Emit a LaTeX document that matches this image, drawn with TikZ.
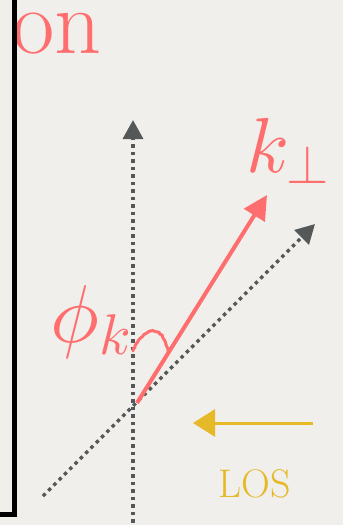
\documentclass[tikz,border=0pt]{standalone}
\DeclareFontShape{OML}{cmm}{m}{it}{<->cmmi10}{}
\DeclareFontShape{OMS}{cmsy}{m}{n}{<->cmsy10}{}
\DeclareFontShape{OT1}{cmr}{m}{n}{<->cmr10}{}
\usetikzlibrary{arrows.meta,decorations.pathmorphing}
\definecolor{bg}{RGB}{241,239,235}
\definecolor{salmon}{RGB}{255,110,110}
\definecolor{axisgray}{RGB}{85,88,88}
\definecolor{gold}{RGB}{230,185,40}
\begin{document}
\begin{tikzpicture}[x=1pt,y=-1pt,
  axis/.style={axisgray, line width=3.5pt, dash pattern=on 3.5pt off 4pt, -{Triangle[width=20pt,length=19pt]}},
  kvec/.style={salmon, line width=4pt, -{Triangle[width=24pt,length=24pt]}},
  losarrow/.style={gold, line width=3pt, -{Triangle[width=27pt,length=22pt]}},
  anglemark/.style={salmon, line width=3pt, line cap=round, decorate, decoration={random steps,segment length=2pt,amplitude=0.5pt}},
  lbl/.style={text=salmon, inner sep=0pt, font=\fontsize{78}{80}\selectfont},
  frame/.style={black, line width=5pt}]
\fill[bg] (0,0) rectangle (343,525);
\useasboundingbox (0,0) rectangle (343,525);
% title fragment, clipped by the frame
\begin{scope}
  \clip (16.5,0) rectangle (343,525);
  \node[anchor=base east, text=salmon, inner sep=0pt, font=\fontsize{92}{92}\selectfont] (title) at (102,53) {on};
\end{scope}
% frame corner
\coordinate (ftop) at (14,-5);
\coordinate (fcorner) at (14,514);
\coordinate (fleft) at (-5,514);
\draw[frame] (ftop) -- (fcorner) -- (fleft);
% axes
\coordinate (O) at (133,406);
\coordinate (vtop) at (133,120);
\coordinate (vbot) at (133,530);
\coordinate (dlow) at (43,496);
\coordinate (dtip) at (315,224);
\draw[axis] (vbot) -- (vtop);
\draw[axis] (dlow) -- (dtip);
% k vector
\coordinate (kstart) at (137,403);
\coordinate (ktip) at (267,195);
\draw[kvec] (kstart) -- (ktip);
% angle mark
\coordinate (a1) at (133,351);
\coordinate (a2) at (168,352);
\draw[anglemark] (a1) .. controls (140,331) and (162,318) .. (a2);
% LOS arrow
\coordinate (losstart) at (313,423);
\coordinate (losend) at (193,423);
\draw[losarrow] (losstart) -- (losend);
% labels
\node[lbl, anchor=base west] (kperp) at (246,172) {$k_\perp$};
\node[lbl, anchor=base west, font=\fontsize{82}{84}\selectfont] (phik) at (50,342) {$\phi_k$};
\node[anchor=base west, text=gold, inner sep=0pt, font=\fontsize{40}{40}\selectfont] (los) at (218,497) {LOS};
\end{tikzpicture}
\end{document}
